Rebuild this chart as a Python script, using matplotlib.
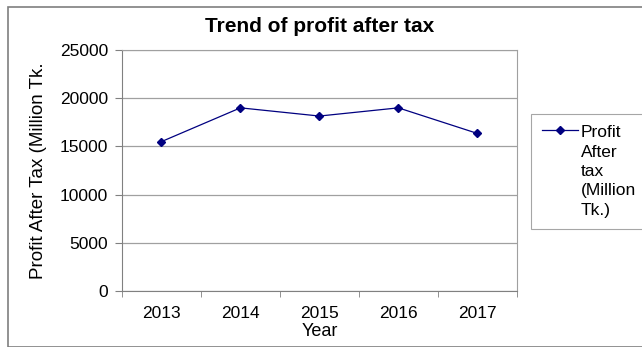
import matplotlib.pyplot as plt
from matplotlib.patches import Rectangle
from matplotlib.lines import Line2D
from matplotlib.legend_handler import HandlerLine2D

plt.rcParams['font.family'] = ['Liberation Sans', 'DejaVu Sans']

# data
years = ['2013', '2014', '2015', '2016', '2017']
profit = [15500, 19000, 18150, 19000, 16350]
y_ticks = [0, 5000, 10000, 15000, 20000, 25000]


class TopLineHandler(HandlerLine2D):
    # put the legend key next to the first line of a multi-line label
    def __init__(self, shift, **kw):
        super().__init__(**kw)
        self.shift = shift

    def create_artists(self, legend, orig_handle, xdescent, ydescent,
                       width, height, fontsize, trans):
        arts = super().create_artists(legend, orig_handle, xdescent, ydescent,
                                      width, height, fontsize, trans)
        for a in arts:
            a.set_ydata([y + self.shift for y in a.get_ydata()])
        return arts


fig = plt.figure(figsize=(6.42, 3.47), dpi=100)

# outer chart border
fig.patches.append(Rectangle((0.012, 0.0), 1.0, 0.98, transform=fig.transFigure,
                             fill=False, edgecolor='#7f7f7f', linewidth=1.2))

ax = fig.add_axes([0.190, 0.161, 0.615, 0.695])
x = list(range(len(years)))
ax.plot(x, profit, color='#000080', linewidth=0.9, marker='D', markersize=4,
        label='Profit\nAfter\ntax\n(Million\nTk.)')

ax.set_xlim(-0.5, len(years) - 0.5)
ax.set_ylim(0, 25000)
ax.set_yticks(y_ticks)
ax.set_yticklabels([str(v) for v in y_ticks], fontsize=12.5)
ax.set_xticks(x)
ax.set_xticklabels(years, fontsize=12.5)
ax.tick_params(axis='x', length=0, pad=11)
ax.tick_params(axis='y', length=5, color='#808080', pad=5)
# category boundary ticks, Excel style
ax.set_xticks([i - 0.5 for i in range(len(years) + 1)], minor=True)
ax.tick_params(axis='x', which='minor', length=4, color='#808080')

ax.grid(axis='y', color='#a0a0a0', linewidth=0.9)
ax.set_axisbelow(True)
for s in ax.spines.values():
    s.set_color('#a0a0a0')
ax.spines['left'].set_color('#808080')
ax.spines['bottom'].set_color('#808080')

ax.set_title('Trend of profit after tax', fontsize=15, fontweight='bold', pad=13)
ax.set_xlabel('Year', fontsize=13, labelpad=1.5)
ax.set_ylabel('Profit After Tax (Million Tk.', fontsize=13.5, labelpad=9)

fs = 12.5
leg = ax.legend(loc='upper left', bbox_to_anchor=(1.035, 0.734 - 0.47, 0.31, 0.47),
                mode='expand', fontsize=fs, frameon=True, fancybox=False,
                handlelength=2.1, handletextpad=0.15, borderpad=0.65,
                borderaxespad=0,
                handler_map={Line2D: TopLineHandler(shift=30)})
leg.get_frame().set_edgecolor('#909090')
leg.get_frame().set_linewidth(0.8)
for t in leg.get_texts():
    t.set_linespacing(1.36)

plt.savefig('out.png', dpi=100)
plt.close()
